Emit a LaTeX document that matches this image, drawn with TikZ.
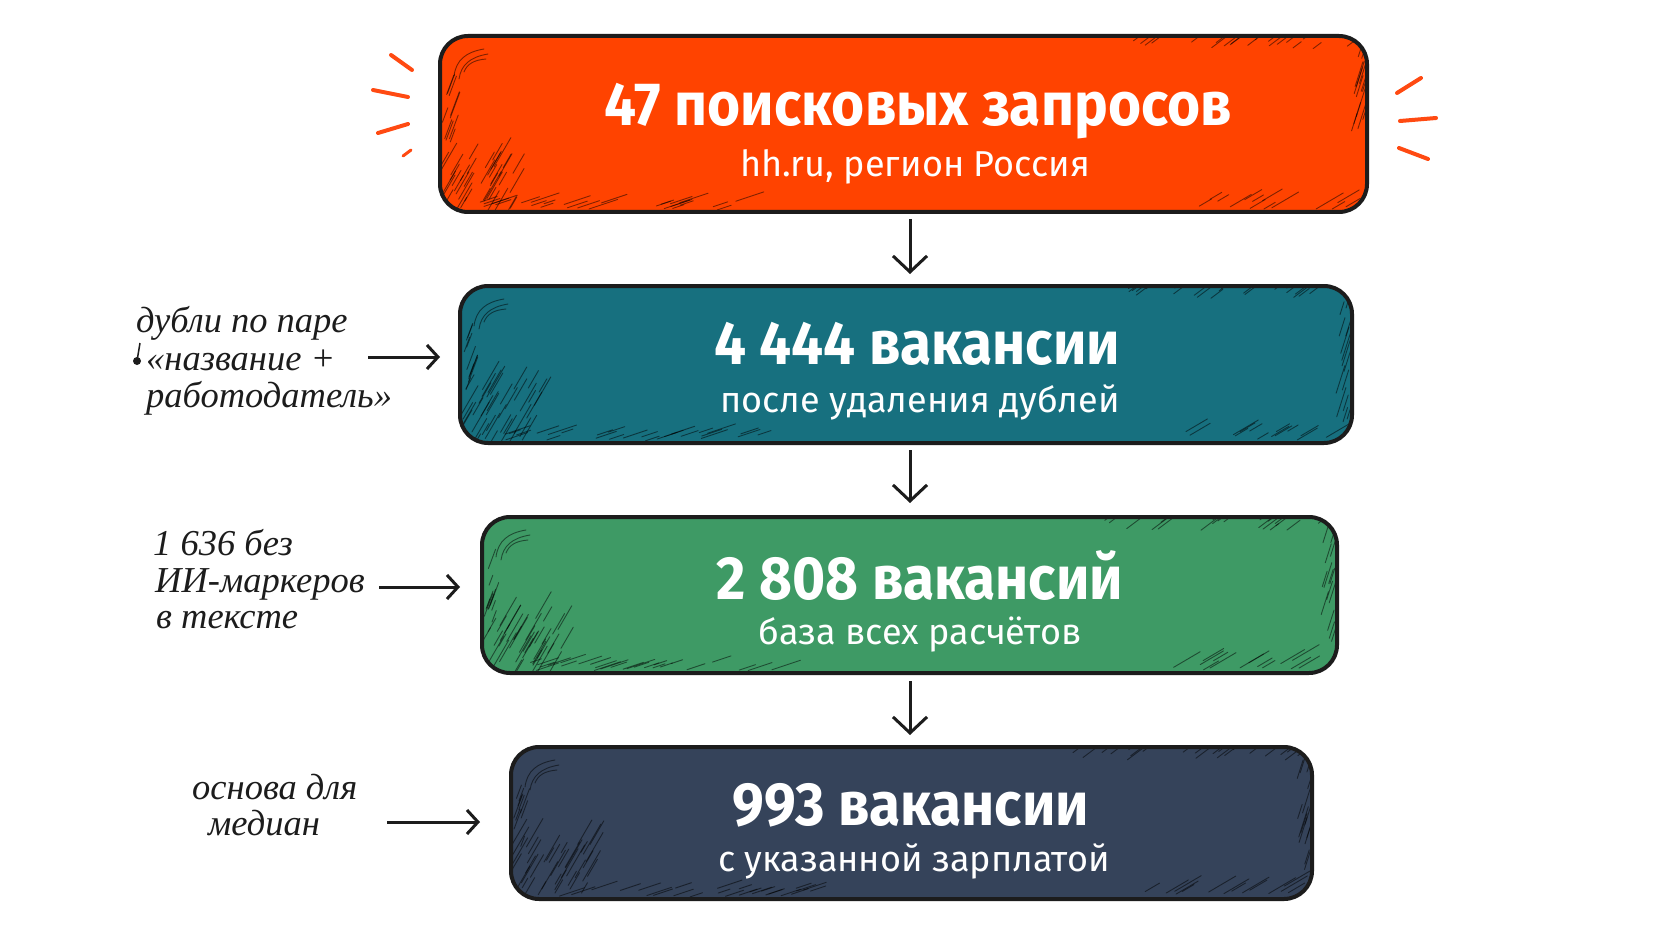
\documentclass[tikz,border=0pt]{standalone}
\usepackage{fontspec}
\setmainfont{Fira Sans}
\newfontfamily\titlefont{Fira Sans}[FakeStretch=0.93]
\newfontfamily\handfont{Liberation Serif}
\usetikzlibrary{arrows.meta}
\definecolor{cOrange}{HTML}{FF4300}
\definecolor{cTeal}{HTML}{17707F}
\definecolor{cGreen}{HTML}{3E9A65}
\definecolor{cNavy}{HTML}{35435A}
\definecolor{cBurst}{HTML}{FF4A12}
\definecolor{cInk}{HTML}{1C1C1C}
\newcommand\sketchhatch[4]{%
  \begin{scope}
    \clip[rounded corners=28pt] (#1,#2) rectangle (#3,#4);
    \foreach \k in {1,...,40}{%
      \pgfmathsetmacro\hpx{#1+rnd*80}%
      \pgfmathsetmacro\hpy{#4-rnd*55}%
      \pgfmathsetmacro\hlen{10+rnd*26}%
      \draw[hatchline] (\hpx,\hpy) -- ++(\hlen*0.5,-\hlen*0.86);
    }
    \foreach \k in {1,...,26}{%
      \pgfmathsetmacro\hpx{#1+40+rnd*260}%
      \pgfmathsetmacro\hpy{#4-2-rnd*9}%
      \pgfmathsetmacro\hlen{12+rnd*20}%
      \draw[hatchline] (\hpx,\hpy) -- ++(\hlen*0.9,-\hlen*0.3);
    }
    \foreach \k in {1,...,10}{%
      \pgfmathsetmacro\hpx{#1+2+rnd*9}%
      \pgfmathsetmacro\hpy{#2+50+rnd*(#4-#2-100)}%
      \pgfmathsetmacro\hlen{10+rnd*18}%
      \draw[hatchline] (\hpx,\hpy) -- ++(\hlen*0.35,-\hlen*0.94);
    }
    \foreach \k in {1,...,22}{%
      \pgfmathsetmacro\hpx{#3-rnd*240}%
      \pgfmathsetmacro\hpy{#2+2+rnd*12}%
      \pgfmathsetmacro\hlen{10+rnd*20}%
      \draw[hatchline] (\hpx,\hpy) -- ++(\hlen*0.8,-\hlen*0.6);
    }
    \foreach \k in {1,...,14}{%
      \pgfmathsetmacro\hpx{#3-4-rnd*12}%
      \pgfmathsetmacro\hpy{#2+20+rnd*(#4-#2-40)}%
      \pgfmathsetmacro\hlen{12+rnd*20}%
      \draw[hatchline] (\hpx,\hpy) -- ++(\hlen*0.3,-\hlen*0.95);
    }
    \foreach \k in {1,...,14}{%
      \pgfmathsetmacro\hpx{#3-20-rnd*150}%
      \pgfmathsetmacro\hpy{#4-3-rnd*10}%
      \pgfmathsetmacro\hlen{12+rnd*20}%
      \draw[hatchline] (\hpx,\hpy) -- ++(\hlen*0.85,-\hlen*0.5);
    }
    \draw[hatchline] (#1+14,#2+40) .. controls (#1+16,#2+24) and (#1+26,#2+16) .. (#1+44,#2+13);
    \draw[hatchline] (#1+19,#2+43) .. controls (#1+21,#2+29) and (#1+30,#2+21) .. (#1+48,#2+18);
    \draw[hatchline] (#1+24,#2+36) .. controls (#1+27,#2+28) and (#1+34,#2+24) .. (#1+46,#2+23);
  \end{scope}}
\tikzset{
  box/.style={rectangle, rounded corners=28pt, inner sep=0pt, outer sep=0pt},
  boxborder/.style={draw=cInk, line width=4pt, rounded corners=28pt},
  hatchline/.style={black, opacity=0.5, line width=0.9pt, line cap=round},
  ttl/.style={text=white, font=\titlefont\fontsize{61}{70}\selectfont\bfseries, inner sep=0pt, anchor=base},
  sub/.style={text=white, font=\fontsize{36}{42}\selectfont, inner sep=0pt, anchor=base},
  hand/.style={text=cInk, font=\handfont\itshape\fontsize{36.5}{40}\selectfont, inner sep=0pt, anchor=base west},
  darr/.style={draw=cInk, line width=3pt, -{Straight Barb[length=16pt,width=34pt,line width=3pt]}},
  larr/.style={draw=cInk, line width=3pt, -{Straight Barb[length=11pt,width=24pt,line width=3pt]}},
  burst/.style={draw=cBurst, line width=4pt, line cap=round},
}
\begin{document}
\begin{tikzpicture}[x=1pt,y=-1pt]
\useasboundingbox (0,0) rectangle (1672,941);
\fill[white] (0,0) rectangle (1672,941);
\pgfmathsetseed{11}
% boxes
\node[box, fill=cOrange, minimum width=927pt, minimum height=176pt] (b1) at (903.5,124) {};
\node[box, fill=cTeal, minimum width=892pt, minimum height=157pt] (b2) at (906,364.5) {};
\node[box, fill=cGreen, minimum width=855pt, minimum height=156pt] (b3) at (909.5,595) {};
\node[box, fill=cNavy, minimum width=801pt, minimum height=152pt] (b4) at (911.5,823) {};
\sketchhatch{440}{36}{1367}{212}
\sketchhatch{460}{286}{1352}{443}
\sketchhatch{482}{517}{1337}{673}
\sketchhatch{511}{747}{1312}{899}
\draw[boxborder] (440,36) rectangle (1367,212);
\draw[boxborder] (460,286) rectangle (1352,443);
\draw[boxborder] (482,517) rectangle (1337,673);
\draw[boxborder] (511,747) rectangle (1312,899);
% texts
\node[ttl] (t1) at (918,126) {47 поисковых запросов};
\node[sub] (s1) at (915,177) {hh.ru, регион Россия};
\node[ttl] (t2) at (917,364) {4 444 вакансии};
\node[sub] (s2) at (920,412) {после удаления дублей};
\node[ttl] (t3) at (920,599) {2 808 вакансий};
\node[sub] (s3) at (920,644) {база всех расчётов};
\node[ttl] (t4) at (911,825) {993 вакансии};
\node[sub] (s4) at (914,871) {с указанной зарплатой};
% bursts
\draw[burst] (391,55) -- (412,70);
\draw[burst] (373,90) -- (408,97);
\draw[burst] (378,133) -- (408,124);
\draw[burst, line width=3pt] (403,156) -- (411,150);
\draw[burst] (1397,93) -- (1421,78);
\draw[burst] (1400,121) -- (1436,118);
\draw[burst] (1399,148) -- (1428,159);
% down arrows
\coordinate (cx) at (910,0);
\draw[darr, shorten <=7pt, shorten >=12pt] (b1.south -| cx) -- (b2.north -| cx);
\draw[darr, shorten <=7pt, shorten >=14pt] (b2.south -| cx) -- (b3.north -| cx);
\draw[darr, shorten <=8pt, shorten >=12pt] (b3.south -| cx) -- (b4.north -| cx);
% notes
\node[hand] (n1a) at (136,332) {дубли по паре};
\node[hand] (n1b) at (146,370) {«название +};
\node[hand] (n1c) at (146,407) {работодатель»};
\fill[cInk] (137,361) circle (4pt);
\draw[cInk, line width=1.5pt] (137,361) -- (140,343);
\node[hand] (n2a) at (153,555) {1 636 без};
\node[hand] (n2b) at (155,592) {ИИ-маркеров};
\node[hand] (n2c) at (156,628) {в тексте};
\node[hand] (n3a) at (192,799) {основа для};
\node[hand] (n3b) at (208,835) {медиан};
% side arrows
\coordinate (a1) at (368,357);
\coordinate (a2) at (379,587);
\coordinate (a3) at (387,822);
\draw[larr, shorten >=20pt] (a1) -- (a1 -| b2.west);
\draw[larr, shorten >=22pt] (a2) -- (a2 -| b3.west);
\draw[larr, shorten >=31pt] (a3) -- (a3 -| b4.west);
\end{tikzpicture}
\end{document}
